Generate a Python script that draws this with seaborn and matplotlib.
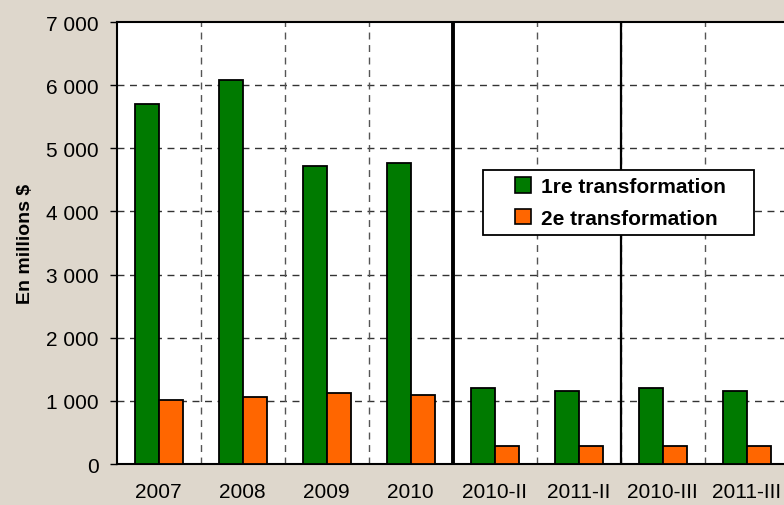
import numpy as np
import pandas as pd
import matplotlib
matplotlib.use("Agg")
import matplotlib.pyplot as plt
from matplotlib.patches import Rectangle
from matplotlib.ticker import FuncFormatter
import seaborn as sns

periodes = ['2007', '2008', '2009', '2010', '2010-II', '2011-II', '2010-III', '2011-III']
premiere = [5700, 6080, 4720, 4770, 1210, 1160, 1210, 1160]
deuxieme = [1020, 1060, 1125, 1100, 280, 280, 280, 280]
series = ['1re transformation', '2e transformation']

df = pd.DataFrame({
    'Periode': periodes * 2,
    'Valeur': premiere + deuxieme,
    'Serie': [series[0]] * len(periodes) + [series[1]] * len(periodes),
})

sns.set_style('white')
plt.rcParams['font.family'] = ['Liberation Sans', 'DejaVu Sans']
plt.rcParams['text.color'] = 'black'
plt.rcParams['axes.labelcolor'] = 'black'
plt.rcParams['xtick.color'] = 'black'
plt.rcParams['ytick.color'] = 'black'

fig = plt.figure(figsize=(7.84, 5.06), dpi=100)
fig.patch.set_facecolor('#DED7CC')
ax = fig.add_axes([0.149, 0.081, 0.857, 0.8735])
ax.set_facecolor('white')

sns.barplot(data=df, x='Periode', y='Valeur', hue='Serie', order=periodes,
            palette={series[0]: '#007A00', series[1]: '#FF6600'}, saturation=1,
            width=0.57, edgecolor='black', linewidth=1.3, ax=ax, zorder=3)

ax.set_xlim(-0.5, len(periodes) - 0.5)
ax.set_ylim(0, 7000)
ax.set_yticks(np.arange(0, 7001, 1000))
ax.yaxis.set_major_formatter(FuncFormatter(lambda v, p: f'{int(v):,}'.replace(',', ' ')))

# gridlines
for yv in np.arange(1000, 7000, 1000):
    ax.axhline(yv, color='#333333', lw=1, dashes=(5, 4), zorder=1)
bounds = np.arange(-0.5, len(periodes), 1)
ax.set_xticks(bounds, minor=True)
for xv in bounds[1:]:
    ax.axvline(xv, color='#555555', lw=1, dashes=(5, 4), zorder=1)
ax.axvline(3.5, color='black', lw=2.8, zorder=4)
ax.axvline(5.5, color='black', lw=1.6, zorder=4)

ax.tick_params(axis='x', which='major', length=0, labelsize=15, pad=13)
ax.tick_params(axis='x', which='minor', length=5, width=1, direction='out')
ax.tick_params(axis='y', length=5, width=1, direction='out', labelsize=15, left=True, pad=8)

for s in ['left', 'bottom', 'top']:
    ax.spines[s].set_color('black')
    ax.spines[s].set_linewidth(1.5)
ax.spines['right'].set_visible(False)

ax.set_xlabel('')
ax.set_ylabel('En millions $', fontsize=14, fontweight='bold', labelpad=9)

# legend frame drawn separately to get the wide box
ax.add_patch(Rectangle((0.545, 0.518), 0.403, 0.147, transform=ax.transAxes,
                       facecolor='white', edgecolor='black', lw=1.3, zorder=5))
leg = ax.legend(loc='center', bbox_to_anchor=(0.75, 0.5915), frameon=False,
                prop={'weight': 'bold', 'size': 15}, handlelength=0.75,
                handleheight=0.75, handletextpad=0.5, borderpad=0,
                labelspacing=0.6, borderaxespad=0)
leg.set_zorder(6)
for h in leg.legend_handles:
    h.set_edgecolor('black')
    h.set_linewidth(1.2)

fig.savefig('out.png', dpi=100, facecolor=fig.get_facecolor())
